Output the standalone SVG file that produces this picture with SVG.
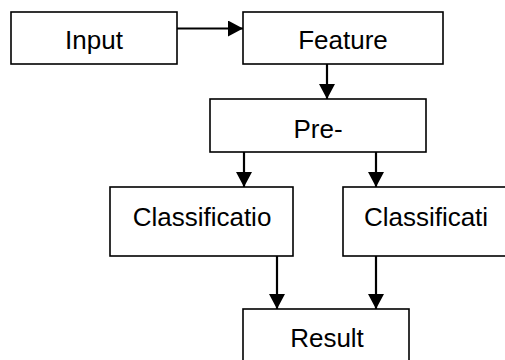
<svg xmlns="http://www.w3.org/2000/svg" width="505" height="360" viewBox="0 0 505 360">
<style>
.box{fill:#fff;stroke:#000;stroke-width:1.6}
.lbl{font-family:"Liberation Sans",Arial,sans-serif;font-size:26px;fill:#000;text-anchor:middle}
.con{stroke:#000;stroke-width:2.2;fill:none;marker-end:url(#ah)}
</style>
<defs>
<marker id="ah" markerUnits="userSpaceOnUse" markerWidth="15" markerHeight="16" refX="15" refY="8" orient="auto">
<path d="M0,0 L15,8 L0,16 z" fill="#000"/>
</marker>
</defs>
<rect width="505" height="360" fill="#fff"/>
<g id="input"><rect class="box" x="11" y="12" width="166" height="52"/><text class="lbl" x="94" y="49">Input</text></g>
<g id="feature"><rect class="box" x="243" y="12" width="200" height="52"/><text class="lbl" x="343" y="49">Feature</text></g>
<g id="pre"><rect class="box" x="210" y="99" width="216" height="53"/><text class="lbl" x="318" y="138">Pre-</text></g>
<g id="class1"><rect class="box" x="110" y="187" width="183" height="69"/><text class="lbl" x="202" y="226">Classificatio</text></g>
<g id="class2"><rect class="box" x="343" y="187" width="166" height="69"/><text class="lbl" x="426" y="226">Classificati</text></g>
<g id="result"><rect class="box" x="243" y="309" width="166" height="60"/><text class="lbl" x="327" y="347">Result</text></g>
<g id="connectors">
<line class="con" x1="177" y1="28.5" x2="243" y2="28.5"/>
<line class="con" x1="327" y1="64" x2="327" y2="99"/>
<line class="con" x1="244" y1="152" x2="244" y2="187"/>
<line class="con" x1="376" y1="152" x2="376" y2="187"/>
<line class="con" x1="277" y1="256" x2="277" y2="309"/>
<line class="con" x1="376" y1="256" x2="376" y2="309"/>
</g>
</svg>
